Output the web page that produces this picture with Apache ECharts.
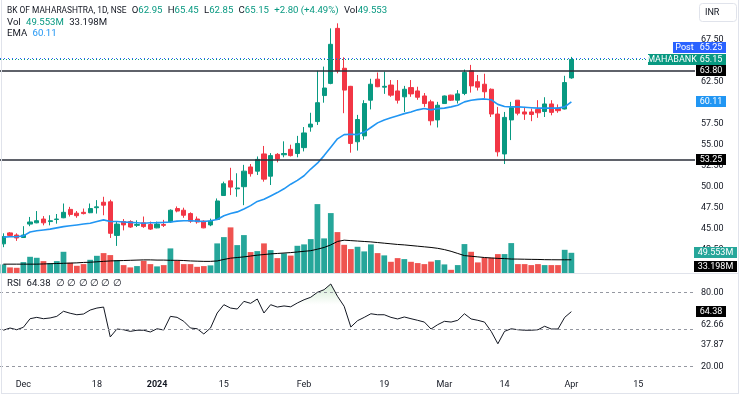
<!DOCTYPE html>
<html>
<head>
<meta charset="utf-8">
<title>BK OF MAHARASHTRA, 1D, NSE</title>
<script src="https://cdn.jsdelivr.net/npm/echarts@6.0.0/dist/echarts.min.js"></script>
<style>
html, body { margin: 0; padding: 0; background: #fff; }
#chart { width: 743px; height: 398px; }
</style>
</head>
<body>
<div id="chart"></div>
<script>
// trading days (last 18 are empty future slots on the time scale)
var dates = [
    '2023-11-28', '2023-11-29', '2023-11-30', '2023-12-01', '2023-12-04', '2023-12-05', '2023-12-06', '2023-12-07', '2023-12-08', '2023-12-11',
    '2023-12-12', '2023-12-13', '2023-12-14', '2023-12-15', '2023-12-18', '2023-12-19', '2023-12-20', '2023-12-21', '2023-12-22', '2023-12-26',
    '2023-12-27', '2023-12-28', '2023-12-29', '2024-01-01', '2024-01-02', '2024-01-03', '2024-01-04', '2024-01-05', '2024-01-08', '2024-01-09',
    '2024-01-10', '2024-01-11', '2024-01-12', '2024-01-15', '2024-01-16', '2024-01-17', '2024-01-18', '2024-01-19', '2024-01-20', '2024-01-23',
    '2024-01-24', '2024-01-25', '2024-01-29', '2024-01-30', '2024-01-31', '2024-02-01', '2024-02-02', '2024-02-05', '2024-02-06', '2024-02-07',
    '2024-02-08', '2024-02-09', '2024-02-12', '2024-02-13', '2024-02-14', '2024-02-15', '2024-02-16', '2024-02-19', '2024-02-20', '2024-02-21',
    '2024-02-22', '2024-02-23', '2024-02-26', '2024-02-27', '2024-02-28', '2024-02-29', '2024-03-01', '2024-03-02', '2024-03-04', '2024-03-05',
    '2024-03-06', '2024-03-07', '2024-03-11', '2024-03-12', '2024-03-13', '2024-03-14', '2024-03-15', '2024-03-18', '2024-03-19', '2024-03-20',
    '2024-03-21', '2024-03-22', '2024-03-26', '2024-03-27', '2024-03-28', '2024-04-01',
    '2024-04-02', '2024-04-03', '2024-04-04', '2024-04-05', '2024-04-08', '2024-04-09', '2024-04-10', '2024-04-11', '2024-04-12', '2024-04-15',
    '2024-04-16', '2024-04-17', '2024-04-18', '2024-04-19', '2024-04-22', '2024-04-23', '2024-04-24', '2024-04-25'
];

// date -> label shown on the time axis
var tickLabels = {
    '2023-12-01': 'Dec', '2023-12-18': '18', '2024-01-01': '2024', '2024-01-15': '15', '2024-02-01': 'Feb',
    '2024-02-19': '19', '2024-03-01': 'Mar', '2024-03-14': '14', '2024-04-01': 'Apr', '2024-04-15': '15'
};

// [open, close, low, high]
var candles = [
    [43.2, 44.05, 42.8, 44.45], [44.5, 44.2, 44.1, 44.6], [44.25, 43.9, 43.55, 44.45], [43.95, 44.25, 43.9, 45.3],
    [45.55, 45.8, 45.3, 46.4], [45.7, 45.95, 45.65, 47.1], [46.15, 45.7, 45.4, 46.5], [45.85, 45.95, 45.4, 46.6],
    [46.1, 46.15, 45.6, 46.75], [46.3, 46.95, 46.25, 48.0], [47.3, 46.7, 46.45, 47.6], [46.85, 46.55, 46.3, 47.1],
    [46.95, 46.8, 46.7, 47.4], [46.9, 47.4, 46.85, 48.0], [47.5, 47.6, 46.8, 48.4], [48.15, 47.8, 46.6, 48.8],
    [48.2, 44.45, 43.9, 48.45], [44.2, 45.55, 42.95, 45.85], [45.85, 45.45, 44.8, 46.15], [45.85, 45.2, 45.1, 46.0],
    [45.4, 45.5, 45.2, 46.0], [45.7, 45.25, 45.1, 46.45], [45.5, 44.95, 44.85, 45.85], [45.1, 45.55, 45.05, 45.85],
    [45.5, 45.4, 45.2, 46.05], [45.8, 47.2, 45.7, 47.3], [47.4, 47.1, 46.95, 47.65], [47.2, 46.6, 46.3, 47.5],
    [46.8, 45.9, 45.7, 46.95], [46.15, 45.8, 45.6, 46.45], [45.9, 45.1, 45.05, 46.0], [45.45, 45.9, 45.3, 46.2],
    [46.1, 48.3, 46.05, 48.6], [48.95, 50.35, 48.9, 50.6], [50.7, 49.95, 49.0, 52.25], [49.75, 49.85, 48.8, 51.6],
    [50.0, 51.85, 47.8, 52.6], [52.35, 51.55, 51.2, 52.7], [51.85, 53.25, 51.4, 53.6], [53.9, 50.9, 50.6, 54.85],
    [51.25, 53.7, 50.2, 54.0], [53.85, 53.3, 52.9, 54.0], [53.8, 53.95, 53.5, 55.4], [54.45, 53.7, 53.6, 55.0],
    [53.95, 55.15, 53.5, 56.05], [54.65, 56.4, 54.2, 57.1], [57.1, 57.45, 56.55, 58.8], [57.75, 60.0, 57.35, 63.8],
    [60.85, 61.75, 60.0, 64.3], [62.3, 66.95, 62.2, 68.85], [68.85, 63.8, 63.5, 69.45], [64.1, 61.5, 58.75, 65.4],
    [61.95, 55.15, 54.05, 62.0], [55.35, 58.0, 54.3, 58.55], [56.05, 59.9, 55.6, 60.3], [60.3, 62.2, 59.2, 62.85],
    [62.8, 61.9, 61.85, 63.6], [61.85, 61.95, 61.05, 63.7], [62.1, 60.9, 60.7, 62.7], [61.4, 60.3, 59.9, 62.7],
    [60.7, 61.6, 58.9, 62.0], [61.8, 61.05, 60.7, 62.7], [61.4, 60.65, 60.35, 61.9], [60.8, 59.9, 59.5, 61.15],
    [60.1, 57.85, 57.3, 60.35], [57.95, 59.7, 57.05, 60.1], [59.9, 60.8, 59.85, 60.85], [60.9, 60.3, 60.2, 60.95],
    [60.3, 61.05, 59.9, 61.5], [61.1, 63.6, 60.9, 63.95], [63.8, 62.0, 61.2, 64.5], [62.5, 61.85, 61.45, 63.3],
    [62.2, 61.3, 60.55, 63.45], [61.6, 58.65, 58.3, 61.7], [58.65, 54.15, 53.6, 59.5], [53.9, 58.25, 52.7, 58.9],
    [57.95, 59.4, 55.55, 60.1], [60.3, 58.75, 58.5, 60.3], [58.9, 58.65, 57.95, 59.5], [58.9, 58.6, 57.8, 59.3],
    [59.2, 58.8, 58.2, 60.3], [58.95, 59.85, 58.3, 60.65], [59.85, 58.85, 58.5, 60.3], [59.35, 59.05, 58.8, 59.8],
    [59.25, 62.4, 59.2, 63.2], [62.95, 65.15, 62.85, 65.45]
];

var ema = [
    44.0, 44.05, 44.05, 44.15, 44.6, 44.75, 44.85, 44.95, 45.1, 45.25,
    45.35, 45.45, 45.55, 45.65, 45.85, 46.05, 45.85, 45.85, 45.8, 45.75,
    45.7, 45.65, 45.7, 45.72, 45.75, 45.8, 45.9, 45.95, 45.95, 45.9,
    45.85, 45.95, 46.1, 46.55, 46.8, 47.0, 47.35, 47.75, 48.25, 48.5,
    48.9, 49.3, 49.75, 50.3, 50.75, 51.3, 52.1, 52.8, 53.7, 54.7,
    55.7, 56.2, 56.25, 56.2, 56.5, 57.05, 57.6, 57.95, 58.2, 58.45,
    58.7, 58.9, 59.15, 59.3, 59.15, 59.3, 59.35, 59.5, 59.7, 60.1,
    60.3, 60.4, 60.45, 60.35, 59.8, 59.55, 59.5, 59.5, 59.45, 59.4,
    59.35, 59.35, 59.35, 59.35, 59.5, 60.11
];

// volume in millions
var volumes = [
    22.4, 15.4, 14.5, 27.8, 40.2, 37.9, 30.1, 25.5, 30.1, 51.9,
    26.2, 19.2, 23.1, 33.2, 42.5, 48.8, 44.2, 32.5, 20.8, 15.4,
    18.5, 30.8, 23.1, 17.8, 20.8, 59.8, 30.8, 23.1, 23.1, 16.8,
    18.5, 20.1, 71.5, 86.2, 108.9, 67.5, 90.9, 51.2, 53.5, 71.5,
    55.8, 37.1, 48.1, 43.0, 65.9, 69.2, 81.5, 163.3, 83.2, 142.3,
    97.9, 68.2, 58.2, 63.6, 52.8, 69.2, 48.8, 43.5, 28.5, 37.1,
    34.8, 28.5, 25.5, 23.1, 29.0, 32.5, 22.4, 9.8, 20.8, 69.9,
    51.9, 27.1, 37.9, 37.9, 46.5, 46.5, 72.2, 23.1, 23.1, 20.8,
    23.1, 20.8, 20.8, 20.8, 56.5, 49.553
];

var volumeMa = [
    23, 23, 23, 23, 23, 23, 23.5, 24, 24.5, 25,
    25.5, 26, 27, 27.5, 28.5, 29.5, 30.5, 31, 31.5, 32,
    32.5, 33, 33, 32.5, 32.5, 32, 32, 31.5, 30.5, 30,
    29.5, 29.5, 30.5, 34, 37, 38.5, 40, 42, 44, 45.5,
    47, 48, 49, 50, 51.5, 53, 54.5, 58, 62, 68,
    76, 79, 78, 77, 76, 75, 73.5, 72, 70.5, 69,
    68, 66.5, 65, 63.5, 62, 60, 57, 53, 48, 43,
    41.5, 40, 38.5, 37.5, 36.5, 36, 35, 34.8, 34.5, 34.2,
    34, 33.5, 33.3, 33.2, 33.2, 33.198
];

var rsi = [
    49.4, 51.2, 49.8, 51.8, 58.7, 59.8, 58.7, 59.3, 60.6, 64.7,
    63.1, 61.9, 62.5, 65.7, 67.3, 68.1, 44.0, 50.4, 49.8, 48.5,
    49.4, 49.4, 48.0, 50.6, 49.6, 60.6, 59.8, 56.6, 51.2, 50.6,
    46.4, 51.2, 63.3, 70.0, 67.3, 66.5, 72.7, 71.1, 74.6, 63.3,
    70.0, 68.1, 69.0, 68.3, 71.4, 74.0, 76.0, 80.0, 82.1, 86.7,
    76.8, 68.7, 52.0, 57.1, 59.8, 62.7, 61.9, 61.9, 59.8, 58.5,
    60.1, 58.7, 57.4, 56.0, 50.4, 53.9, 56.6, 56.0, 57.4, 62.7,
    58.5, 57.4, 56.0, 48.5, 38.5, 48.5, 50.6, 49.8, 49.4, 49.4,
    49.8, 52.6, 50.4, 50.4, 59.8, 64.38
];

var levels = [63.80, 53.25];
var rsiBands = [80, 50, 20];
var rsiTicks = [20, 37.87, 62.66, 80];

var FONT = 'Roboto, "Open Sans", sans-serif';
var UP = '#089981', DOWN = '#f23645';
var TEXT = '#131722';

var chart = echarts.init(document.getElementById('chart'));

var volData = volumes.map(function (v, i) {
    var c = candles[i];
    return { value: v, itemStyle: { color: c[1] >= c[0] ? '#26a69a' : '#ef5350' } };
});

var HF = 9.6;
var rich = {
    s: { color: TEXT, fontSize: 8.4, fontFamily: FONT },
    n: { color: TEXT, fontSize: HF, fontFamily: FONT },
    g: { color: UP, fontSize: HF, fontFamily: FONT },
    b: { color: '#2196f3', fontSize: HF, fontFamily: FONT }
};

function legend(top, text) {
    return { left: 7, top: top, padding: 0, text: text, textStyle: { fontSize: HF, fontWeight: 'normal', rich: rich } };
}

var option = {
    animation: false,
    backgroundColor: '#fff',
    title: [
        legend(6, '{s|BK OF MAHARASHTRA, 1D, NSE}  {n|O}{g|62.95}  {n|H}{g|65.45}  {n|L}{g|62.85}  {n|C}{g|65.15}  {g|+2.80 (+4.49%)}  {n|Vol}{g|49.553}'),
        legend(17.5, '{n|Vol}  {g|49.553M}  {n|33.198M}'),
        legend(28.5, '{n|EMA}  {b|60.11}'),
        legend(278.5, '{n|RSI}  {n|64.38}  {n|∅ ∅ ∅ ∅ ∅ ∅}')
    ],
    grid: [
        { left: 0, right: 48, top: 18.7, height: 273 },
        { left: 0, right: 48, top: 150, height: 124 },
        { left: 0, right: 48, top: 267.5, height: 105.4 }
    ],
    xAxis: [0, 1, 2].map(function (g) {
        return {
            type: 'category', gridIndex: g, data: dates, boundaryGap: true, show: g === 2,
            axisLine: { show: false }, axisTick: { show: false }, splitLine: { show: false },
            axisLabel: {
                margin: 7, color: TEXT, fontSize: 9, fontFamily: FONT,
                interval: function (idx, val) { return tickLabels[val] !== undefined; },
                formatter: function (val) {
                    var t = tickLabels[val] || '';
                    return t === '2024' ? '{y|2024}' : t;
                },
                rich: { y: { fontWeight: 'bold', fontSize: 9, color: TEXT, fontFamily: FONT } }
            }
        };
    }),
    yAxis: [
        {
            gridIndex: 0, position: 'right', min: 37.5, max: 70, interval: 2.5,
            axisLine: { show: false }, axisTick: { show: false }, splitLine: { show: false },
            axisLabel: {
                margin: 6, color: TEXT, fontSize: 9, fontFamily: FONT,
                formatter: function (v) { return (v < 42 || v > 68) ? '' : v.toFixed(2); }
            }
        },
        { gridIndex: 1, min: 0, max: 289.7, show: false },
        {
            gridIndex: 2, position: 'right', min: 15, max: 100,
            axisLine: { show: false }, axisTick: { show: false }, splitLine: { show: false },
            axisLabel: {
                margin: 6, color: TEXT, fontSize: 9, fontFamily: FONT,
                customValues: rsiTicks,
                formatter: function (v) {
                    if (Math.abs(v - 62.66) < 0.01) return '{dn|62.66}';
                    return v.toFixed(2);
                },
                rich: { dn: { padding: [22, 0, 0, 0], fontSize: 9, color: TEXT, fontFamily: FONT } }
            }
        }
    ],
    series: [
        {
            name: 'Volume', type: 'bar', xAxisIndex: 1, yAxisIndex: 1, data: volData,
            barWidth: '86%', z: 1
        },
        {
            name: 'Volume MA', type: 'line', xAxisIndex: 1, yAxisIndex: 1, data: volumeMa,
            symbol: 'none', lineStyle: { color: '#000', width: 1 }, z: 2
        },
        {
            name: 'MAHABANK', type: 'candlestick', xAxisIndex: 0, yAxisIndex: 0, data: candles,
            barWidth: '70%', z: 3,
            itemStyle: { color: UP, color0: DOWN, borderColor: UP, borderColor0: DOWN, borderWidth: 1 },
            markLine: {
                silent: true, symbol: 'none', label: { show: false }, animation: false,
                data: levels.map(function (l) {
                    return { yAxis: l, lineStyle: { color: '#2a2e39', width: 1.5, type: 'solid' } };
                }).concat([
                    { yAxis: 65.15, lineStyle: { color: UP, width: 1, type: [1, 2] } },
                    { yAxis: 65.25, lineStyle: { color: '#2962ff', width: 1, type: [1, 3] } }
                ])
            }
        },
        {
            name: 'EMA', type: 'line', xAxisIndex: 0, yAxisIndex: 0, data: ema,
            symbol: 'none', lineStyle: { color: '#2196f3', width: 1.6 }, z: 4
        },
        {
            name: 'RSI', type: 'line', xAxisIndex: 2, yAxisIndex: 2, data: rsi,
            symbol: 'none', lineStyle: { color: '#131722', width: 1 }, z: 4,
            areaStyle: {
                color: {
                    type: 'linear', x: 0, y: 267.5, x2: 0, y2: 304.7, global: true,
                    colorStops: [
                        { offset: 0, color: 'rgba(76,175,80,0.65)' },
                        { offset: 1, color: 'rgba(76,175,80,0)' }
                    ]
                }
            },
            markLine: {
                silent: true, symbol: 'none', label: { show: false }, animation: false,
                lineStyle: { color: '#9598a1', width: 1, type: [3, 3] },
                data: rsiBands.map(function (b) { return { yAxis: b }; })
            }
        }
    ]
};

chart.setOption(option);

// coloured price tag on the scale: box + white text
function tagBox(x, yc, w, text, bg) {
    var top = Math.round(yc - 5.5);
    return [
        { type: 'rect', z: 100, shape: { x: x, y: top, width: w, height: 11 }, style: { fill: bg } },
        {
            type: 'text', z: 101, x: x + w / 2, y: top + 5.5,
            style: {
                text: text, fill: '#fff', font: '9px ' + FONT,
                align: 'center', verticalAlign: 'middle', textAlign: 'center', textVerticalAlign: 'middle'
            }
        }
    ];
}

function py(axis, v) {
    return chart.convertToPixel({ yAxisIndex: axis }, v);
}

var last = candles[candles.length - 1];
var tags = [].concat(
    // post-market and last price sit on top of each other, the scale pushes "Post" up
    tagBox(673, py(0, 65.25) - 11, 23, 'Post', '#2962ff'),
    tagBox(696, py(0, 65.25) - 11, 30, '65.25', '#2962ff'),
    tagBox(648, py(0, last[1]), 48, 'MAHABANK', UP),
    tagBox(696, py(0, last[1]), 30, last[1].toFixed(2), UP),
    tagBox(696, py(0, levels[0]), 30, levels[0].toFixed(2), '#000'),
    tagBox(696, py(0, ema[ema.length - 1]), 30, ema[ema.length - 1].toFixed(2), '#2196f3'),
    tagBox(696, py(0, levels[1]), 30, levels[1].toFixed(2), '#000'),
    tagBox(694, py(1, volumes[volumes.length - 1]), 43, volumes[volumes.length - 1].toFixed(3) + 'M', '#26a69a'),
    tagBox(694, py(1, volumeMa[volumeMa.length - 1]) + 7, 43, volumeMa[volumeMa.length - 1].toFixed(3) + 'M', '#000'),
    tagBox(696, py(2, rsi[rsi.length - 1]), 30, rsi[rsi.length - 1].toFixed(2), '#000')
);

var frame = [
    { type: 'line', z: 90, shape: { x1: 0, y1: 273.5, x2: 739, y2: 273.5 }, style: { stroke: '#e0e3eb', lineWidth: 1 } },
    { type: 'line', z: 90, shape: { x1: 1.5, y1: 0, x2: 1.5, y2: 393 }, style: { stroke: '#e0e3eb', lineWidth: 1 } },
    { type: 'line', z: 90, shape: { x1: 738.5, y1: 0, x2: 738.5, y2: 393 }, style: { stroke: '#e0e3eb', lineWidth: 1 } },
    { type: 'line', z: 90, shape: { x1: 1, y1: 393.5, x2: 739, y2: 393.5 }, style: { stroke: '#e0e3eb', lineWidth: 1 } },
    {
        type: 'rect', z: 90, shape: { x: 699.5, y: 3.5, width: 37, height: 18, r: 3 },
        style: { fill: '#fff', stroke: '#e0e3eb', lineWidth: 1 }
    },
    { type: 'text', z: 91, x: 705, y: 8, style: { text: 'INR', fill: TEXT, font: '9px ' + FONT } }
];

chart.setOption({ graphic: frame.concat(tags) });
</script>
</body>
</html>
